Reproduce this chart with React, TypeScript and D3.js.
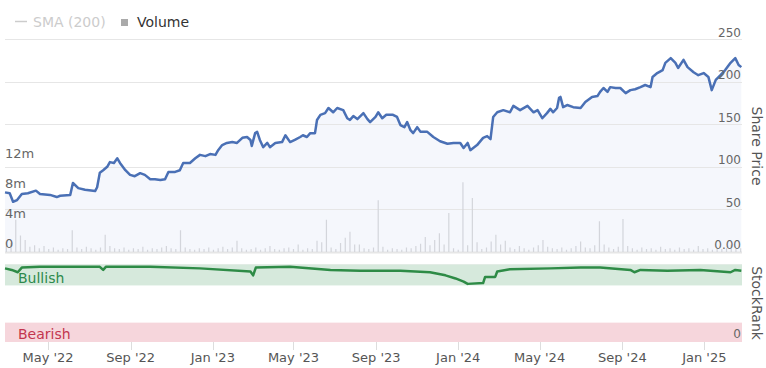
import React from 'react';
import * as d3 from 'd3';

// share price [date, price]
const pricePoints: [string, number][] = [
  ['2022-02-26', 70], ['2022-03-05', 69], ['2022-03-10', 59], ['2022-03-16', 61], ['2022-03-23', 68],
  ['2022-04-01', 69], ['2022-04-13', 72], ['2022-04-19', 68], ['2022-05-04', 67], ['2022-05-14', 64.5],
  ['2022-05-19', 66], ['2022-06-03', 67], ['2022-06-07', 81], ['2022-06-15', 75], ['2022-06-25', 73],
  ['2022-07-10', 71.5], ['2022-07-13', 76], ['2022-07-17', 93], ['2022-07-22', 96], ['2022-07-28', 100],
  ['2022-08-01', 105.5], ['2022-08-07', 104.5], ['2022-08-12', 110], ['2022-08-16', 104.5], ['2022-08-24', 96],
  ['2022-08-31', 90.5], ['2022-09-07', 89], ['2022-09-15', 92.5], ['2022-09-22', 90.5], ['2022-09-30', 85.5],
  ['2022-10-07', 85.5], ['2022-10-15', 84.5], ['2022-10-22', 85.5], ['2022-10-27', 94], ['2022-11-06', 94],
  ['2022-11-13', 96], ['2022-11-18', 104.5], ['2022-11-28', 104.5], ['2022-12-06', 110], ['2022-12-13', 114],
  ['2022-12-21', 112.5], ['2022-12-28', 115], ['2023-01-05', 114], ['2023-01-09', 119.5], ['2023-01-15', 125.5],
  ['2023-01-22', 128], ['2023-01-30', 129], ['2023-02-06', 128], ['2023-02-14', 134], ['2023-02-21', 135],
  ['2023-02-26', 131.5], ['2023-02-28', 124.5], ['2023-03-05', 139.5], ['2023-03-08', 141], ['2023-03-12', 131.5],
  ['2023-03-17', 123], ['2023-03-23', 128], ['2023-03-27', 123], ['2023-04-04', 128], ['2023-04-14', 129],
  ['2023-04-19', 137], ['2023-04-26', 129], ['2023-05-03', 131.5], ['2023-05-11', 135], ['2023-05-15', 137],
  ['2023-05-21', 135], ['2023-05-26', 139.5], ['2023-06-02', 139.5], ['2023-06-05', 155], ['2023-06-10', 161],
  ['2023-06-17', 163], ['2023-06-22', 169], ['2023-06-29', 164], ['2023-07-05', 169], ['2023-07-14', 166.5],
  ['2023-07-20', 157], ['2023-07-24', 155], ['2023-07-29', 159.5], ['2023-08-04', 156], ['2023-08-13', 163],
  ['2023-08-19', 156], ['2023-08-23', 152.5], ['2023-08-31', 158.5], ['2023-09-04', 164], ['2023-09-10', 157],
  ['2023-09-16', 161], ['2023-09-26', 161], ['2023-10-02', 158.5], ['2023-10-07', 149], ['2023-10-13', 146.5],
  ['2023-10-17', 152.5], ['2023-10-22', 143], ['2023-10-26', 139.5], ['2023-11-01', 146.5], ['2023-11-06', 141],
  ['2023-11-16', 141], ['2023-11-25', 135], ['2023-12-05', 130], ['2023-12-16', 127], ['2023-12-25', 128],
  ['2024-01-04', 128], ['2024-01-09', 122], ['2024-01-15', 128], ['2024-01-19', 119.5], ['2024-01-29', 125.5],
  ['2024-02-07', 134], ['2024-02-13', 136], ['2024-02-18', 132.5], ['2024-02-22', 158.5], ['2024-02-28', 164],
  ['2024-03-08', 166.5], ['2024-03-18', 164], ['2024-03-23', 171.5], ['2024-04-02', 166.5], ['2024-04-13', 171.5],
  ['2024-04-22', 164], ['2024-04-28', 166.5], ['2024-05-05', 157], ['2024-05-12', 163], ['2024-05-17', 168],
  ['2024-05-21', 164], ['2024-05-27', 169], ['2024-05-30', 181], ['2024-06-01', 182], ['2024-06-05', 170],
  ['2024-06-11', 172.5], ['2024-06-20', 170], ['2024-07-01', 169], ['2024-07-08', 176], ['2024-07-18', 182],
  ['2024-07-26', 183], ['2024-07-30', 188], ['2024-08-04', 192.5], ['2024-08-10', 188], ['2024-08-14', 193.5],
  ['2024-08-22', 192.5], ['2024-08-29', 192.5], ['2024-09-06', 186.5], ['2024-09-13', 190], ['2024-09-20', 191],
  ['2024-09-28', 193.5], ['2024-10-05', 196], ['2024-10-13', 193.5], ['2024-10-16', 205.5], ['2024-10-23', 210],
  ['2024-10-31', 213.5], ['2024-11-04', 222], ['2024-11-12', 227.5], ['2024-11-19', 222], ['2024-11-23', 216],
  ['2024-12-01', 225.5], ['2024-12-07', 217], ['2024-12-16', 211], ['2024-12-23', 207.5], ['2024-12-31', 210],
  ['2025-01-07', 205.5], ['2025-01-12', 190], ['2025-01-18', 202], ['2025-01-25', 207.5], ['2025-02-01', 213.5],
  ['2025-02-09', 222], ['2025-02-16', 227.5], ['2025-02-21', 219.5], ['2025-02-25', 217],
];

// weekly volume in millions, weeks starting Monday 2022-02-28
const volumeStart = '2022-02-28';
const volumeValues = [
  0.8, 1.2, 4.3, 2.2, 1.6, 0.7, 0.9, 0.5, 0.8, 0.4, 0.6, 0.3, 0.5, 0.4, 2.9, 0.6, 0.4, 0.7, 0.5, 0.3,
  0.6, 2.3, 0.8, 0.5, 0.4, 0.6, 0.3, 0.5, 0.4, 0.7, 0.3, 0.5, 0.4, 0.6, 0.8, 0.5, 0.4, 2.9, 0.6, 0.4,
  0.3, 0.5, 0.4, 0.6, 0.3, 0.5, 0.7, 0.4, 0.6, 1.5, 0.5, 0.3, 0.4, 0.6, 0.3, 0.5, 0.8, 0.4, 0.3, 0.5,
  0.6, 0.4, 1.0, 0.3, 0.5, 0.4, 1.5, 1.3, 4.3, 0.6, 0.4, 1.2, 1.9, 2.7, 1.0, 1.0, 0.5, 0.4, 0.6, 6.9,
  0.7, 0.3, 0.5, 0.4, 0.3, 0.6, 0.5, 0.8, 1.1, 2.0, 0.9, 1.6, 2.5, 1.0, 5.2, 0.5, 0.3, 9.3, 0.9, 7.2,
  1.3, 0.4, 0.6, 1.4, 2.3, 1.0, 1.5, 0.6, 0.4, 0.8, 0.5, 0.3, 0.6, 0.9, 1.6, 0.7, 0.5, 0.4, 0.6, 0.3,
  0.5, 0.8, 1.4, 0.6, 0.5, 0.9, 4.1, 1.0, 0.6, 0.4, 0.7, 4.4, 0.8, 0.5, 0.3, 0.6, 0.4, 0.5, 0.3, 0.7,
  0.4, 0.5, 0.3, 0.6, 0.4, 0.5, 0.3, 0.8, 0.4, 0.5, 0.3, 0.6, 0.4, 0.5, 1.0, 0.4, 0.5,
];

// StockRank
const rankPoints: [string, number][] = [
  ['2022-02-26', 95], ['2022-03-08', 93], ['2022-03-17', 90], ['2022-03-23', 96], ['2022-04-19', 97],
  ['2022-07-17', 97], ['2022-07-22', 93], ['2022-07-26', 97], ['2022-09-30', 97], ['2022-12-13', 95],
  ['2023-02-26', 91], ['2023-03-02', 86], ['2023-03-06', 96], ['2023-04-26', 97], ['2023-06-25', 93],
  ['2023-08-08', 92], ['2023-10-07', 92], ['2023-11-20', 90], ['2023-12-13', 86], ['2023-12-28', 82],
  ['2024-01-09', 78], ['2024-01-15', 75], ['2024-02-07', 76], ['2024-02-10', 84], ['2024-02-25', 84],
  ['2024-02-28', 91], ['2024-03-18', 94], ['2024-05-17', 95], ['2024-07-01', 96], ['2024-07-30', 96],
  ['2024-09-13', 93], ['2024-09-19', 90], ['2024-09-28', 93], ['2024-11-07', 92], ['2024-12-26', 93],
  ['2025-02-09', 90], ['2025-02-16', 93], ['2025-02-25', 92],
];

const priceTicks = [50, 100, 150, 200, 250];
const volumeTicks = [0, 4, 8, 12];
const bullishBand = [73, 100];
const bearishBand = [0, 25];

const font = '"DejaVu Sans", Verdana, sans-serif';
const parse = d3.timeParse('%Y-%m-%d');

const App: React.FC = () => {
  const W = 766;
  const H = 368;
  const left = 5;
  const right = 742;

  const x = d3.scaleTime()
    .domain([parse('2022-02-26')!, parse('2025-02-26')!])
    .range([left, right]);
  const yPrice = d3.scaleLinear().domain([0, 250]).range([252, 39]);
  const yVol = d3.scaleLinear().domain([0, 4]).range([252, 222]);
  const yRank = d3.scaleLinear().domain([0, 100]).range([342, 264.5]);

  const prices = pricePoints.map(([d, v]) => ({ date: parse(d)!, v }));
  const ranks = rankPoints.map(([d, v]) => ({ date: parse(d)!, v }));
  const volStart = parse(volumeStart)!;
  const volumes = volumeValues.map((v, i) => ({ date: d3.timeWeek.offset(volStart, i), v }));

  const line = d3.line<{ date: Date; v: number }>()
    .x(d => x(d.date))
    .y(d => yPrice(d.v));
  const area = d3.area<{ date: Date; v: number }>()
    .x(d => x(d.date))
    .y0(yPrice(0))
    .y1(d => yPrice(d.v));
  const rankLine = d3.line<{ date: Date; v: number }>()
    .x(d => x(d.date))
    .y(d => yRank(d.v));

  const xTicks = x.ticks(d3.timeMonth.every(4)!);
  const fmt = d3.timeFormat("%b '%y");

  return (
    <svg width={W} height={H} style={{ position: 'absolute', left: 0, top: 0, fontFamily: font }}>
      <rect width={W} height={H} fill="#fff" />

      {/* legend */}
      <line x1={15} x2={27} y1={21.5} y2={21.5} stroke="#ccc" strokeWidth={1.5} />
      <text x={33} y={27} fontSize={14} fill="#ccc">SMA (200)</text>
      <rect x={121} y={19} width={7} height={7} fill="#aaa" />
      <text x={137} y={27} fontSize={14} fill="#333">Volume</text>

      {/* price panel */}
      <path d={area(prices) ?? ''} fill="#f5f7fc" />
      {priceTicks.map(t => (
        <line key={t} x1={left} x2={right} y1={Math.round(yPrice(t)) + 0.5} y2={Math.round(yPrice(t)) + 0.5} stroke="#e6e6e6" />
      ))}
      <line x1={left} x2={right} y1={252.5} y2={252.5} stroke="#e6e6e6" strokeWidth={2} />
      {volumes.map((d, i) => (
        <rect key={i} x={x(d.date) - 0.6} width={1.2} y={yVol(d.v)} height={yVol(0) - yVol(d.v)} fill="#d3d5db" />
      ))}
      <path d={line(prices) ?? ''} fill="none" stroke="#4a70b5" strokeWidth={2.5} strokeLinejoin="round" />

      {priceTicks.map(t => (
        <text key={t} x={741} y={yPrice(t) - 2.5} fontSize={12} fill="#666" textAnchor="end">{t}</text>
      ))}
      <text x={741} y={yPrice(0) - 3} fontSize={12} fill="#666" textAnchor="end">0.00</text>
      {volumeTicks.map(t => (
        <text key={t} x={5} y={yVol(t * 1) - 4.5} fontSize={13} fill="#666">{t === 0 ? '0' : `${t}m`}</text>
      ))}
      <text transform={`translate(752,146) rotate(90)`} fontSize={14} fill="#555" textAnchor="middle">Share Price</text>

      {/* StockRank panel */}
      <line x1={left} x2={right} y1={264.5} y2={264.5} stroke="#eee" />
      <rect x={left} width={right - left} y={yRank(bullishBand[1])} height={yRank(bullishBand[0]) - yRank(bullishBand[1])} fill="#d6e9dc" />
      <rect x={left} width={right - left} y={yRank(bearishBand[1])} height={yRank(bearishBand[0]) - yRank(bearishBand[1])} fill="#f6d6dc" />
      <text x={18} y={283} fontSize={14} fill="#2e8a4c">Bullish</text>
      <text x={18} y={339} fontSize={14} fill="#c3354e">Bearish</text>
      <path d={rankLine(ranks) ?? ''} fill="none" stroke="#2e8b46" strokeWidth={2.5} strokeLinejoin="round" />
      <text x={741} y={338} fontSize={12} fill="#666" textAnchor="end">0</text>
      <text transform={`translate(752,303) rotate(90)`} fontSize={14} fill="#555" textAnchor="middle">StockRank</text>

      {/* x axis */}
      {xTicks.map(t => (
        <g key={t.getTime()}>
          <line x1={Math.round(x(t)) + 0.5} x2={Math.round(x(t)) + 0.5} y1={342} y2={350} stroke="#ddd" />
          <text x={x(t)} y={362} fontSize={13} fill="#555" textAnchor="middle">{fmt(t)}</text>
        </g>
      ))}
    </svg>
  );
};

export default App;
